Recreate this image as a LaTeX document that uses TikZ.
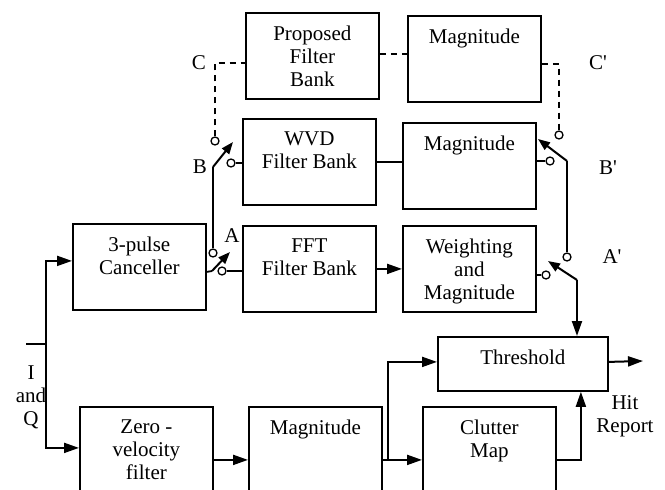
\documentclass[tikz,border=0pt]{standalone}
\usepackage{fontspec}
\setmainfont{Liberation Serif}
\usetikzlibrary{arrows.meta,positioning,calc}

\begin{document}
\begin{tikzpicture}[x=1pt, y=-1pt,
box/.style={rectangle, draw, line width=1.8pt, minimum width=133pt, minimum height=86pt, anchor=north west, inner sep=0pt},
txt/.style={anchor=north, align=center, inner sep=0pt, yshift=-14pt, font=\fontsize{21}{23}\selectfont},
lbl/.style={align=center, inner sep=0pt, font=\fontsize{21}{23}\selectfont},
wire/.style={line width=1.8pt},
flow/.style={-{Triangle[length=15pt,width=10pt]}, line width=2pt},
arm/.style={-{Triangle[length=12pt,width=9pt]}, line width=2pt},
dashln/.style={dash pattern=on 6pt off 5pt, line width=1.5pt},
contact/.style={circle, draw, fill=white, line width=1.3pt, minimum size=8pt, inner sep=0pt}
]
\useasboundingbox (0,0) rectangle (665,490);

% blocks
\node[box] (prop) at (245,12) {};
\node[txt] (propT) at (prop.north) {Proposed\\Filter\\Bank};
\node[box] (magC) at (407,15) {};
\node[txt] (magCT) at (magC.north) {Magnitude};
\node[box] (wvd) at (242,118) {};
\node[txt] (wvdT) at (wvd.north) {WVD\\Filter Bank};
\node[box] (magB) at (402,122) {};
\node[txt] (magBT) at (magB.north) {Magnitude};
\node[box] (fft) at (242,225) {};
\node[txt] (fftT) at (fft.north) {FFT\\Filter Bank};
\node[box] (wgt) at (402,225) {};
\node[txt] (wgtT) at (wgt.north) {Weighting\\and\\Magnitude};
\node[box] (canc) at (72,223) {};
\node[txt] (cancT) at (canc.north) {3-pulse\\Canceller};
\node[box] (zvf) at (79,406) {};
\node[txt] (zvfT) at (zvf.north) {Zero -\\velocity\\filter};
\node[box] (magZ) at (248,406) {};
\node[txt] (magZT) at (magZ.north) {Magnitude};
\node[box] (clut) at (422,406) {};
\node[txt] (clutT) at (clut.north) {Clutter\\Map};
\node[box, minimum width=170pt, minimum height=54pt] (thr) at (437,336) {};
\node[txt] (thrT) at (thr.north) {Threshold};

% switch contacts and pivots
\node[contact] (sa1) at (222,271) {};
\node[contact] (sa2) at (213,253) {};
\node[contact] (sb1) at (231,163) {};
\node[contact] (sb2) at (215,141) {};
\node[contact] (sbp1) at (550,161) {};
\node[contact] (sbp2) at (559,135) {};
\node[contact] (sap1) at (546,275) {};
\node[contact] (sap2) at (567,257) {};
\coordinate (pa) at (212,271);
\coordinate (ta) at (230,252);
\coordinate (pb) at (213,167);
\coordinate (tb) at (233,142);
\coordinate (pbp) at (567,161);
\coordinate (tbp) at (538,139);
\coordinate (pap) at (577,280);
\coordinate (tap) at (548,261);
\coordinate (cl) at (216,63);

% input
\coordinate (iq0) at (26,344);
\coordinate (iq) at (46,344);
\draw[wire] (iq0) -- (iq);
\draw[flow] (iq) |- ([yshift=6pt]canc.west);
\draw[flow] (iq) |- ([yshift=2pt]zvf.west);
\node[lbl] (iqT) at (31,397) {I\\and\\Q};

% upper paths
\draw[wire] ([yshift=-5pt]canc.east) -- (pa);
\draw[wire] (sa2) -- (pb);
\draw[wire] (wvd.east) -- (wvd.east -| magB.west);
\draw[flow] (fft.east) -- (wgt.west);
\draw[wire] (pbp) -- (sap2);
\draw[dashln] (sb2) -- (sb2 |- cl) -- (prop.west |- cl);
\draw[dashln] ([yshift=2pt]prop.east) -- ([yshift=2pt]prop.east -| magC.west);
\draw[dashln] ([yshift=-5pt]magC.east) -| (sbp2);

\draw[wire] (sa1) -- (sa1 -| fft.west);
\draw[wire] (sb1) -- (sb1 -| wvd.west);
\draw[wire] (sbp1) -- (sbp1 -| magB.east);
\draw[wire] (sap1) -- (sap1 -| wgt.east);
\draw[arm] (pa) -- (ta);
\draw[arm] (pb) -- (tb);
\draw[arm] (pbp) -- (tbp);
\draw[arm] (pap) -- (tap);
\draw[flow] (pap) -- (pap |- thr.north);

\node[lbl] (labA) at (232,236) {A};
\node[lbl] (labB) at (200,167) {B};
\node[lbl] (labC) at (199,63) {C};
\node[lbl] (labAp) at (612,257) {A\textquotesingle};
\node[lbl] (labBp) at (608,168) {B\textquotesingle};
\node[lbl] (labCp) at (598,63) {C\textquotesingle};

% lower paths
\coordinate (br) at (388,459);
\coordinate (hit) at (643,361);
\draw[flow] ([yshift=-10pt]zvf.east) -- ([yshift=-10pt]magZ.west);
\draw[flow] ([yshift=-10pt]magZ.east) -- ([yshift=-10pt]clut.west);
\draw[flow] (br) |- ([yshift=2pt]thr.west);
\draw[flow] ([yshift=-10pt]clut.east) -| ([xshift=58pt]thr.south);
\draw[flow] ([yshift=2pt]thr.east) -- (hit);
\node[lbl] (hitT) at (625,416) {Hit\\Report};
\end{tikzpicture}
\end{document}
